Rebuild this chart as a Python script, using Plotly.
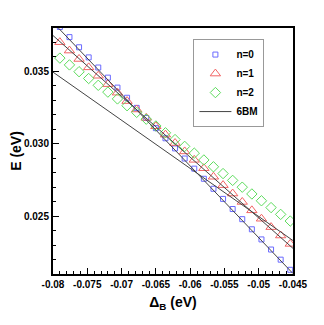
import plotly.graph_objects as go

# Δ_B grid (eV)
delta_b = [-0.079, -0.0776, -0.0762, -0.0748, -0.0734, -0.072, -0.0706, -0.0692,
           -0.0678, -0.0664, -0.065, -0.0636, -0.0622, -0.0608, -0.0594, -0.058,
           -0.0566, -0.0552, -0.0538, -0.0524, -0.051, -0.0496, -0.0482, -0.0468,
           -0.0454]

# n=0 (first point is above the plotted range)
e_n0 = [0.03807, 0.03737, 0.03667, 0.03597, 0.03527, 0.03457, 0.03388, 0.03318,
        0.03248, 0.03178, 0.03108, 0.03038, 0.02968, 0.02898, 0.02828, 0.02758,
        0.02689, 0.02619, 0.02549, 0.02479, 0.02409, 0.02339, 0.02269, 0.02199,
        0.02129]
e_n1 = [0.03702, 0.03644, 0.03586, 0.03528, 0.03470, 0.03412, 0.03353, 0.03295,
        0.03237, 0.03179, 0.03121, 0.03063, 0.03005, 0.02947, 0.02889, 0.02831,
        0.02772, 0.02714, 0.02656, 0.02598, 0.02540, 0.02482, 0.02424, 0.02366,
        0.02308]
e_n2 = [0.03592, 0.03545, 0.03498, 0.03451, 0.03404, 0.03357, 0.03310, 0.03263,
        0.03217, 0.03170, 0.03123, 0.03076, 0.03029, 0.02982, 0.02935, 0.02888,
        0.02841, 0.02794, 0.02747, 0.02700, 0.02653, 0.02606, 0.02559, 0.02512,
        0.02466]

# 6BM straight lines, end points at the x range limits
bm_x = [-0.08, -0.045]
bm_n0 = [0.03839, 0.02103]
bm_n1 = [0.03748, 0.02277]
bm_n2 = [0.03495, 0.02331]

x_ticks = [-0.08, -0.075, -0.07, -0.065, -0.06, -0.055, -0.05, -0.045]
x_ticklabels = ["-0.08", "-0.075", "-0.07", "-0.065", "-0.06", "-0.055", "-0.05", "-0.045"]
y_ticks = [0.025, 0.030, 0.035]
y_ticklabels = ["0.025", "0.030", "0.035"]

FONT = "Arial, Liberation Sans, sans-serif"
LINE_COLOR = "#444444"

fig = go.Figure()

fig.add_trace(go.Scatter(
    x=delta_b, y=e_n0, mode="markers", name="n=0",
    marker=dict(symbol="square-open", size=5, color="#6a6aff", line=dict(width=1))
))
fig.add_trace(go.Scatter(
    x=delta_b, y=e_n1, mode="markers", name="n=1",
    marker=dict(symbol="triangle-up-open", size=9, color="#f26464", line=dict(width=1))
))
fig.add_trace(go.Scatter(
    x=delta_b, y=e_n2, mode="markers", name="n=2",
    marker=dict(symbol="diamond-open", size=8, color="#5cdc5c", line=dict(width=1))
))

for i, ys in enumerate([bm_n0, bm_n1, bm_n2]):
    fig.add_trace(go.Scatter(
        x=bm_x, y=ys, mode="lines", name="6BM",
        line=dict(color=LINE_COLOR, width=1),
        showlegend=(i == 0)
    ))

axis_common = dict(
    showgrid=False, zeroline=False, automargin=False,
    showline=True, linecolor="black", linewidth=2, mirror=True,
    ticks="inside", ticklen=6, tickwidth=1, tickcolor="black",
    tickfont=dict(family=FONT, size=10, color="black", weight="bold"),
)

# the page body adds an 8px offset, so the figure is 8px smaller
# and the left/top margins are 8px narrower
fig.update_layout(
    width=316, height=317,
    margin=dict(l=45, r=31, t=20, b=51),
    paper_bgcolor="white", plot_bgcolor="white",
    font=dict(family=FONT, color="black"),
    xaxis=dict(
        range=[-0.08, -0.045],
        tickvals=x_ticks, ticktext=x_ticklabels,
        minor=dict(dtick=0.001, tick0=-0.08, ticks="inside", ticklen=3,
                   tickwidth=1, tickcolor="black"),
        title=dict(text="Δ<sub>B</sub> (eV)", standoff=8,
                   font=dict(family=FONT, size=14, weight="bold")),
        **axis_common
    ),
    yaxis=dict(
        range=[0.021, 0.038],
        tickvals=y_ticks, ticktext=y_ticklabels,
        minor=dict(dtick=0.001, tick0=0.021, ticks="inside", ticklen=3,
                   tickwidth=1, tickcolor="black"),
        title=dict(text="E (eV)", standoff=4,
                   font=dict(family=FONT, size=14, weight="bold")),
        **axis_common
    ),
    legend=dict(
        x=0.585, y=0.955, xanchor="left", yanchor="top",
        bgcolor="white", bordercolor="#999999", borderwidth=1,
        font=dict(family=FONT, size=10, weight="bold"),
        itemwidth=32, tracegroupgap=0,
    ),
)

fig.write_html("out.html")
